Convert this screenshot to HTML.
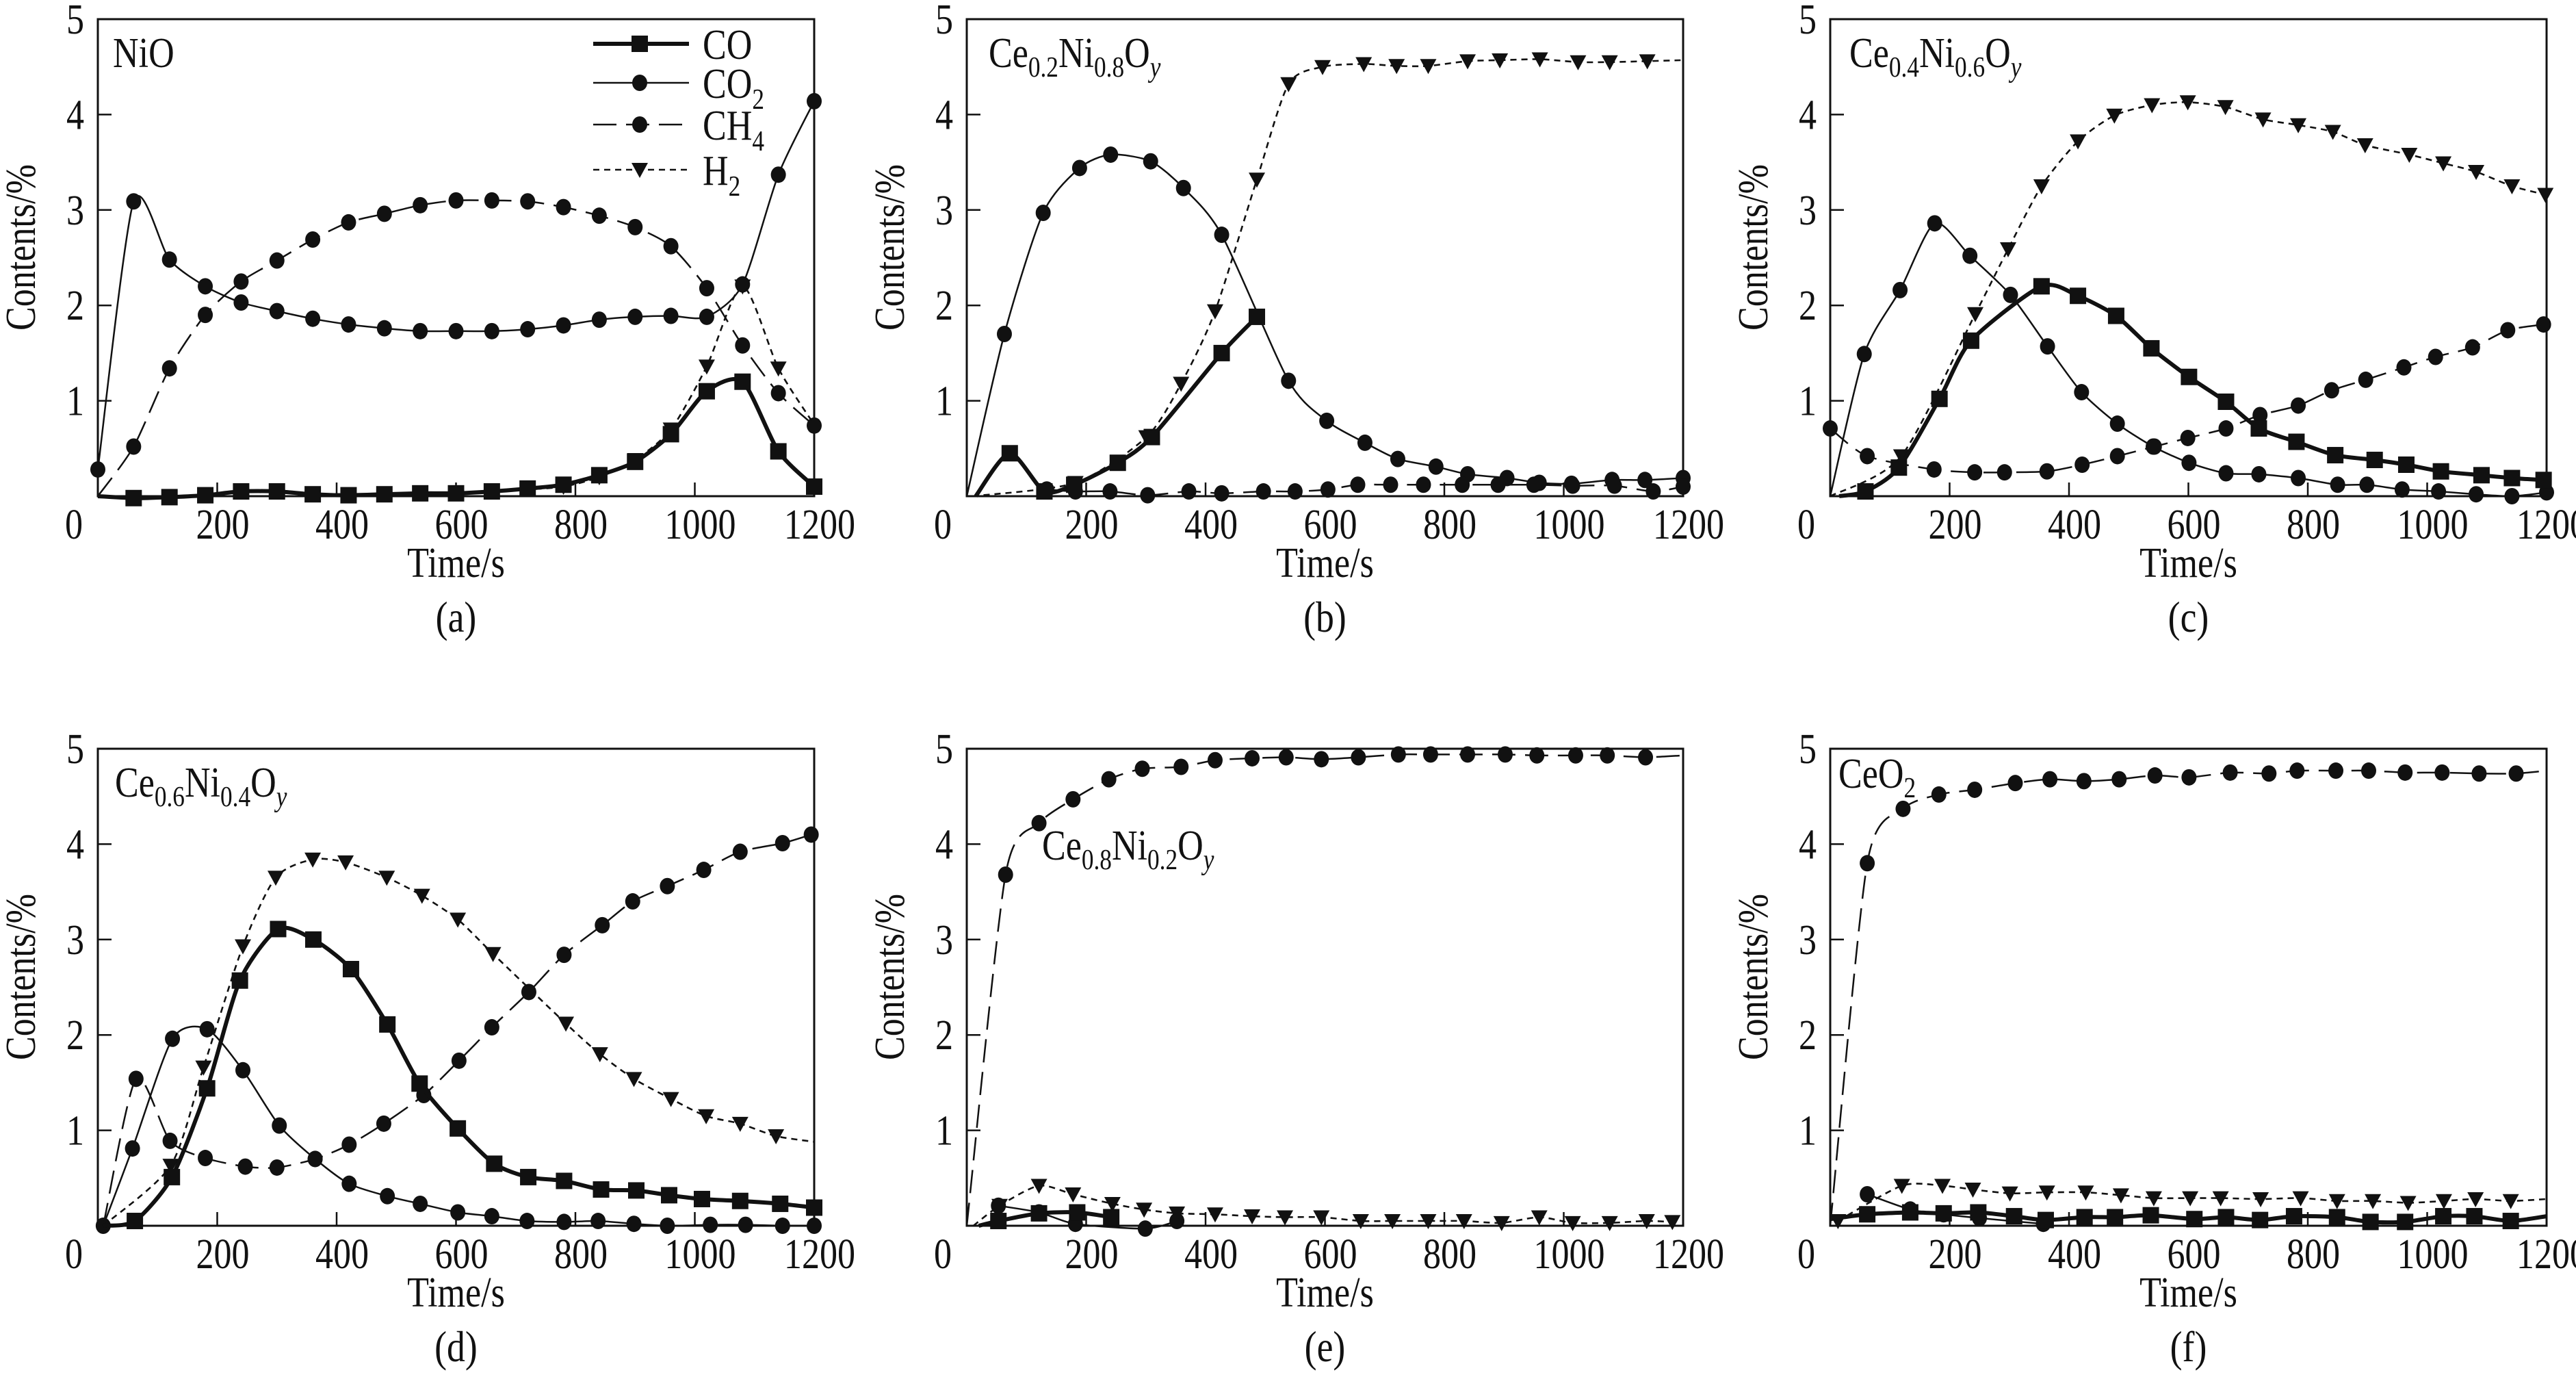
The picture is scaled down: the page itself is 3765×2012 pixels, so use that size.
<!DOCTYPE html>
<html><head><meta charset="utf-8"><style>
html,body{margin:0;padding:0;background:#fff}
svg{display:block}
text{font-family:"Liberation Serif",serif;fill:#111}
</style></head><body>
<svg id="fig" xmlns="http://www.w3.org/2000/svg" width="3765" height="2012" viewBox="0 0 3765 2012"></svg>
<script>
// ---------- shared axis data ----------
const xTicks=[0,200,400,600,800,1000,1200];
const yTicks=[1,2,3,4,5];
const panelLetters=['(a)','(b)','(c)','(d)','(e)','(f)'];
const seriesNames=['CO','CO2','CH4','H2'];

// ---------- panel (a) NiO ----------
const aTime=[0,60,120,180,240,300,360,420,480,540,600,660,720,780,840,900,960,1020,1080,1140,1200];
const aCO=[0,-0.02,-0.01,0.01,0.05,0.05,0.02,0.01,0.02,0.03,0.03,0.05,0.08,0.12,0.22,0.36,0.65,1.1,1.2,0.47,0.1];
const aCO2=[0.28,3.09,2.48,2.2,2.03,1.94,1.86,1.8,1.76,1.73,1.73,1.73,1.75,1.79,1.85,1.88,1.89,1.88,2.22,3.37,4.14];
const aCH4=[0,0.52,1.34,1.9,2.25,2.47,2.69,2.87,2.96,3.05,3.1,3.1,3.09,3.03,2.94,2.82,2.62,2.18,1.58,1.08,0.74];
const aH2=[0,0,0,0,0,0,0,0,0,0,0.02,0.04,0.07,0.1,0.2,0.38,0.7,1.36,2.2,1.34,0.75];

// ---------- panel (b) Ce0.2Ni0.8Oy ----------
const bCOt=[15,72,130,180,253,310,427,486];
const bCOv=[0,0.45,0.05,0.12,0.35,0.62,1.5,1.88];
const bCO2t=[0,63,128,189,241,308,363,427,539,603,667,722,786,839,905,959,1013,1081,1136,1200];
const bCO2v=[0,1.7,2.97,3.44,3.58,3.51,3.23,2.74,1.21,0.79,0.56,0.39,0.31,0.23,0.19,0.14,0.13,0.17,0.17,0.19];
const bCH4t=[134,182,240,303,372,427,497,550,605,655,710,765,830,890,950,1015,1085,1150,1200];
const bCH4v=[0.07,0.05,0.05,0.01,0.05,0.03,0.05,0.05,0.07,0.12,0.12,0.12,0.12,0.12,0.12,0.11,0.11,0.05,0.1];
const bH2t=[10,182,301,359,416,486,539,596,665,720,773,839,893,960,1024,1077,1140,1200];
const bH2v=[0,0.14,0.62,1.18,1.94,3.32,4.32,4.5,4.53,4.51,4.51,4.56,4.57,4.58,4.55,4.55,4.56,4.57];

// ---------- panel (c) Ce0.4Ni0.6Oy ----------
const cCOt=[15,59,115,183,236,354,415,479,538,601,663,718,781,846,912,965,1023,1091,1142,1195];
const cCOv=[0,0.05,0.3,1.02,1.63,2.2,2.1,1.89,1.55,1.25,0.99,0.71,0.57,0.43,0.38,0.33,0.26,0.22,0.19,0.17];
const cCO2t=[0,57,117,175,234,302,364,421,481,541,601,663,718,784,850,899,958,1019,1082,1142,1200];
const cCO2v=[0,1.49,2.16,2.86,2.52,2.11,1.57,1.09,0.76,0.52,0.35,0.24,0.23,0.19,0.12,0.12,0.07,0.05,0.02,0,0.04];
const cCH4t=[0,62,174,242,292,363,422,481,543,599,663,720,784,840,897,961,1014,1076,1135,1195];
const cCH4v=[0.71,0.42,0.28,0.25,0.25,0.26,0.33,0.42,0.52,0.61,0.71,0.85,0.95,1.11,1.22,1.35,1.46,1.56,1.74,1.8];
const cH2t=[0,119,243,298,354,415,476,539,599,662,725,784,842,896,970,1027,1082,1142,1198];
const cH2v=[0,0.42,1.91,2.59,3.25,3.72,3.99,4.1,4.13,4.08,3.95,3.89,3.82,3.68,3.58,3.49,3.4,3.25,3.16];

// ---------- panel (d) Ce0.6Ni0.4Oy ----------
const dCOt=[9,62,124,183,238,302,361,424,485,539,603,664,721,781,843,902,957,1012,1076,1143,1200];
const dCOv=[0,0.05,0.51,1.44,2.57,3.11,3.0,2.69,2.11,1.49,1.02,0.65,0.51,0.47,0.38,0.37,0.32,0.28,0.26,0.23,0.19];
const dCO2t=[9,58,125,183,243,304,364,421,485,540,603,660,719,781,838,898,954,1026,1085,1147,1200];
const dCO2v=[0,0.81,1.96,2.06,1.63,1.05,0.7,0.44,0.31,0.23,0.14,0.1,0.05,0.04,0.05,0.02,0,0.01,0.01,0,0];
const dCH4t=[9,64,121,180,247,300,364,421,479,546,605,660,722,781,845,896,954,1015,1076,1147,1195];
const dCH4v=[0,1.54,0.89,0.71,0.62,0.61,0.7,0.85,1.07,1.37,1.73,2.08,2.45,2.84,3.15,3.4,3.56,3.73,3.92,4.01,4.1];
const dH2t=[9,122,177,243,298,360,415,484,543,603,662,784,841,898,960,1019,1076,1136,1200];
const dH2v=[0,0.63,1.66,2.93,3.65,3.84,3.81,3.65,3.46,3.21,2.85,2.12,1.8,1.54,1.33,1.15,1.07,0.94,0.88];

// ---------- panel (e) Ce0.8Ni0.2Oy ----------
const eCOt=[20,53,121,185,242];
const eCOv=[0,0.05,0.13,0.14,0.09];
const eCO2t=[53,121,182,299,352];
const eCO2v=[0.21,0.14,0.02,-0.03,0.05];
const eCH4t=[0,65,121,178,238,294,359,416,478,535,594,656,723,777,839,902,955,1020,1073,1137,1200];
const eCH4v=[0,3.68,4.22,4.47,4.68,4.79,4.81,4.88,4.9,4.91,4.89,4.91,4.94,4.94,4.94,4.94,4.93,4.93,4.93,4.91,4.93];
const eH2t=[11,55,121,178,244,297,352,416,478,533,594,660,713,773,833,896,959,1015,1077,1139,1182];
const eH2v=[0,0.21,0.42,0.33,0.23,0.17,0.13,0.12,0.1,0.09,0.09,0.05,0.05,0.05,0.05,0.03,0.09,0.03,0.03,0.05,0.04];

// ---------- panel (f) CeO2 ----------
const fCOt=[0,62,134,190,248,308,361,426,477,537,610,663,720,777,849,905,963,1027,1079,1140,1200];
const fCOv=[0.07,0.12,0.14,0.13,0.14,0.1,0.06,0.09,0.09,0.11,0.07,0.09,0.06,0.1,0.09,0.04,0.04,0.1,0.1,0.05,0.1];
const fCO2t=[62,134,190,250,357];
const fCO2v=[0.33,0.17,0.12,0.08,0.02];
const fCH4t=[0,62,122,182,242,310,368,425,484,544,601,670,735,782,847,902,963,1025,1087,1149,1200];
const fCH4v=[0,3.8,4.37,4.52,4.57,4.64,4.68,4.66,4.68,4.72,4.7,4.75,4.74,4.77,4.77,4.77,4.75,4.75,4.74,4.74,4.77];
const fH2t=[13,120,188,239,301,363,428,487,542,603,654,721,788,849,909,968,1028,1081,1140,1200];
const fH2v=[0.05,0.42,0.42,0.38,0.34,0.35,0.35,0.32,0.29,0.29,0.29,0.28,0.29,0.26,0.26,0.24,0.26,0.28,0.26,0.28];

// ---------- drawing ----------
const NS='http://www.w3.org/2000/svg';
const svg=document.getElementById('fig');
function mk(tag,attrs,parent){const e=document.createElementNS(NS,tag);for(const k in attrs)e.setAttribute(k,attrs[k]);(parent||svg).appendChild(e);return e;}
const SX=0.84;
function txt(parent,x,y,size,anchor,extra){
  return mk('text',{x:0,y:0,'font-size':size,'text-anchor':anchor||'start',transform:`translate(${x},${y}) ${extra||''} scale(${SX},1)`},parent);
}
const W=1047,H=697;
const cols=[143,1413,2675],rows=[28,1094];
const styles={
  CO:{w:6,dash:'',mark:'square'},
  CO2:{w:2.5,dash:'',mark:'circle'},
  CH4:{w:2.5,dash:'34 14',mark:'circle'},
  H2:{w:2.6,dash:'9 7',mark:'tri'}
};
function smoothPath(pts){
  let d='M'+pts[0][0].toFixed(1)+','+pts[0][1].toFixed(1);
  const k=8;
  for(let i=0;i<pts.length-1;i++){
    const p0=pts[i-1]||pts[i],p1=pts[i],p2=pts[i+1],p3=pts[i+2]||pts[i+1];
    const c1=[p1[0]+(p2[0]-p0[0])/k,p1[1]+(p2[1]-p0[1])/k];
    const c2=[p2[0]-(p3[0]-p1[0])/k,p2[1]-(p3[1]-p1[1])/k];
    d+=' C'+c1[0].toFixed(1)+','+c1[1].toFixed(1)+' '+c2[0].toFixed(1)+','+c2[1].toFixed(1)+' '+p2[0].toFixed(1)+','+p2[1].toFixed(1);
  }
  return d;
}
function marker(g,kind,x,y,name){
  let m;
  if(kind==='square'){m=mk('rect',{x:x-12,y:y-12,width:24,height:24,fill:'#111'},g);}
  else if(kind==='circle'){m=mk('ellipse',{cx:x,cy:y,rx:11,ry:12,fill:'#111'},g);}
  else {m=mk('path',{d:`M${x-12},${y-10} L${x+12},${y-10} L${x},${y+12} Z`,fill:'#111'},g);}
  
  
}
function drawPanel(idx,L,T,title,series,titlePos){
  const g=mk('g',{});
  
  
  const sx=t=>L+t/1200*W, sy=v=>T+H-v/5*H;
  const frame=mk('rect',{x:L,y:T,width:W,height:H,fill:'none',stroke:'#111','stroke-width':3},g);
  
  
  xTicks.forEach(t=>{
    if(t>0&&t<1200){const tk=mk('line',{x1:sx(t),x2:sx(t),y1:T+H,y2:T+H-20,stroke:'#111','stroke-width':2.5},g);
      
      }
    const lx=t===0?L-35:sx(t)+8;
    const tl=txt(g,lx,T+H+62,62,'middle');tl.textContent=t;
    
    
  });
  yTicks.forEach(v=>{
    if(v<5){const tk=mk('line',{x1:L,x2:L+20,y1:sy(v),y2:sy(v),stroke:'#111','stroke-width':2.5},g);
      
      }
    const tl=txt(g,L-20,sy(v)+21,62,'end');tl.textContent=v;
    
    
  });
  const xt=txt(g,L+W/2,T+H+118,62,'middle');xt.textContent='Time/s';
  
  
  const yt=txt(g,L-92,T+H/2-15,62,'middle','rotate(-90)');yt.textContent='Contents/%';
  
  
  const pl=txt(g,L+W/2,T+H+198,64,'middle');pl.textContent=panelLetters[idx];
  
  
  const tt=txt(g,titlePos[0],titlePos[1],62,'start');
  
  
  title.forEach(p=>{const s=mk('tspan',{},tt);s.textContent=p.t;
    if(p.sub){s.setAttribute('font-size','42');s.setAttribute('dy','14');}
    else if(p.back){s.setAttribute('dy','-14');}
    if(p.it)s.setAttribute('font-style','italic');});
  series.forEach(s=>{
    const st=styles[s.k];
    const pts=s.t.map((t,i)=>[sx(t),sy(s.v[i])]);
    const p=mk('path',{d:smoothPath(pts),fill:'none',stroke:'#111','stroke-width':st.w,'stroke-dasharray':st.dash,'stroke-linejoin':'round'},g);
    
    
    pts.forEach((q,i)=>{if(i>=(s.from||0)&&(s.to===undefined||i<=s.to))marker(g,st.mark,q[0],q[1],s.k.toLowerCase()+'-point');});
  });
}
const sub=(t)=>({t,sub:true});
function formula(a,b){return [{t:'Ce'},sub(a),{t:'Ni',back:true},sub(b),{t:'O',back:true},{t:'y',sub:true,it:true}];}

drawPanel(0,cols[0],rows[0],[{t:'NiO'}],[
  {k:'CO2',t:aTime,v:aCO2},
  {k:'CH4',t:aTime,v:aCH4,from:1},
  {k:'H2',t:aTime,v:aH2,from:13,to:19},
  {k:'CO',t:aTime,v:aCO,from:1}
],[cols[0]+22,rows[0]+70]);
drawPanel(1,cols[1],rows[0],formula('0.2','0.8'),[
  {k:'CO2',t:bCO2t,v:bCO2v,from:1},
  {k:'CH4',t:bCH4t,v:bCH4v},
  {k:'H2',t:bH2t,v:bH2v,from:1,to:16},
  {k:'CO',t:bCOt,v:bCOv,from:1}
],[cols[1]+32,rows[0]+70]);
drawPanel(2,cols[2],rows[0],formula('0.4','0.6'),[
  {k:'CO2',t:cCO2t,v:cCO2v,from:1},
  {k:'CH4',t:cCH4t,v:cCH4v},
  {k:'H2',t:cH2t,v:cH2v,from:1},
  {k:'CO',t:cCOt,v:cCOv,from:1}
],[cols[2]+28,rows[0]+70]);
drawPanel(3,cols[0],rows[1],formula('0.6','0.4'),[
  {k:'CO2',t:dCO2t,v:dCO2v},
  {k:'CH4',t:dCH4t,v:dCH4v,from:1},
  {k:'H2',t:dH2t,v:dH2v,from:1,to:17},
  {k:'CO',t:dCOt,v:dCOv,from:1}
],[cols[0]+25,rows[1]+70]);
drawPanel(4,cols[1],rows[1],formula('0.8','0.2'),[
  {k:'CO2',t:eCO2t,v:eCO2v},
  {k:'CH4',t:eCH4t,v:eCH4v,from:1,to:19},
  {k:'H2',t:eH2t,v:eH2v,from:1},
  {k:'CO',t:eCOt,v:eCOv,from:1}
],[cols[1]+110,rows[1]+162]);
drawPanel(5,cols[2],rows[1],[{t:'CeO'},sub('2')],[
  {k:'CO2',t:fCO2t,v:fCO2v},
  {k:'CH4',t:fCH4t,v:fCH4v,from:1,to:19},
  {k:'H2',t:fH2t,v:fH2v,from:0,to:18},
  {k:'CO',t:fCOt,v:fCOv,from:1,to:19}
],[cols[2]+12,rows[1]+57]);

// legend in panel (a)
const leg=mk('g',{});


const legY=[64,121,182,248];
seriesNames.forEach((n,i)=>{
  const st=styles[n];
  const e=mk('g',{},leg);
  
  
  mk('line',{x1:867,x2:1007,y1:legY[i],y2:legY[i],stroke:'#111','stroke-width':st.w,'stroke-dasharray':st.dash},e);
  marker(e,st.mark,935,legY[i],'legend-marker');
  const t=txt(e,1027,legY[i]+22,62,'start');
  const base=n.replace(/\d/,''),num=n.replace(/\D/g,'');
  const a=mk('tspan',{},t);a.textContent=base;
  if(num){const b=mk('tspan',{'font-size':42,dy:16},t);b.textContent=num;}
});
</script>
</body></html>
